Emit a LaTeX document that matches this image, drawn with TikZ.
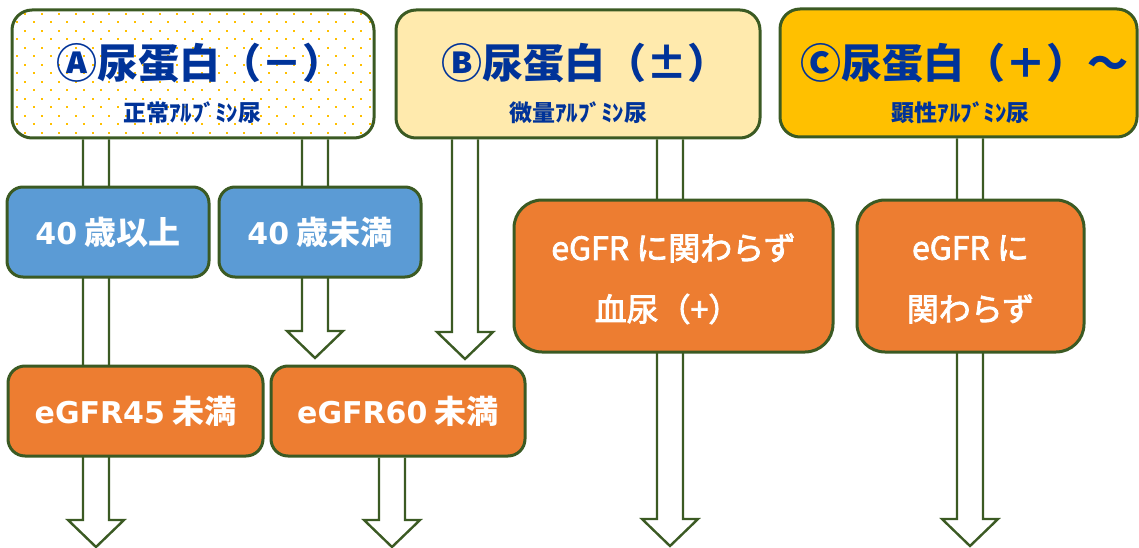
\documentclass[tikz,border=0pt]{standalone}
\usepackage{fontspec}
\newfontfamily\jp{Noto Sans CJK JP}
\newfontfamily\jpm{Noto Sans CJK JP}[BoldFont={Noto Sans CJK JP}, BoldFeatures={FakeBold=2.5}]
\newfontfamily\lat{DejaVu Sans}
\usetikzlibrary{calc}
\pgfdeclarelayer{background}
\pgfsetlayers{background,main}
\definecolor{edgegreen}{HTML}{3B5A23}
\definecolor{ttlblue}{HTML}{003399}
\definecolor{goldc}{HTML}{FFC000}
\definecolor{palec}{HTML}{FFEAAD}
\definecolor{bluebox}{HTML}{5B9BD5}
\definecolor{orangebox}{HTML}{ED7D31}
\newcommand\latb[1]{{\lat\fontsize{30pt}{30pt}\selectfont #1}}
\newcommand\blockarrow[2]{%
  \draw[arrowstyle] ($(#1)+(-13,0)$) -- ($(#2)+(-13,-27)$) -- ($(#2)+(-28,-27)$) -- (#2)
    -- ($(#2)+(28,-27)$) -- ($(#2)+(13,-27)$) -- ($(#1)+(13,0)$);}
\tikzset{
  box/.style={draw=edgegreen, line width=3pt, inner sep=0pt, rounded corners=#1},
  box/.default=18pt,
  arrowstyle/.style={draw=edgegreen, fill=white, line width=2.4pt, line join=miter},
  ttl/.style={font=\jp\bfseries\fontsize{41pt}{41pt}\selectfont, text=ttlblue, inner sep=0pt},
  sub/.style={font=\jp\bfseries\fontsize{23pt}{23pt}\selectfont, text=ttlblue, inner sep=0pt},
  small/.style={font=\jp\bfseries\fontsize{32pt}{32pt}\selectfont, text=white},
  otext/.style={font=\jpm\bfseries\fontsize{32pt}{32pt}\selectfont, text=white, inner sep=0pt},
}
\begin{document}
\begin{tikzpicture}[x=1pt,y=-1pt]
\useasboundingbox (0,0) rectangle (1139,548);
% dotted fill of box A
\fill[white, rounded corners=20pt] (12,10) rectangle (374,138);
\begin{scope}
  \clip[rounded corners=20pt] (12,10) rectangle (374,138);
  \foreach \i in {0,...,15}{
    \foreach \j in {0,...,23}{
      \pgfmathsetmacro\dotx{0.2+16.8*\j+8.4*mod(\i,2)}
      \pgfmathsetmacro\doty{5.5+8.5*\i}
      \fill[goldc] (\dotx-1,\doty-1) rectangle (\dotx+1,\doty+1);
    }
  }
\end{scope}
% top boxes
\node[box=20pt, minimum width=362pt, minimum height=128pt] (A) at (193,74) {};
\node[box=20pt, fill=palec, minimum width=364pt, minimum height=128pt] (B) at (578,74) {};
\node[box=20pt, fill=goldc, minimum width=357pt, minimum height=128pt] (C) at (958.5,73) {};
\node[ttl] (At) at ($(A.center)+(7,-11)$) {Ⓐ尿蛋白（－）};
\node[sub] (As) at ($(A.center)+(-1,39)$) {正常ｱﾙﾌﾞﾐﾝ尿};
\node[ttl] (Bt) at ($(B.center)+(7,-11)$) {Ⓑ尿蛋白（±）};
\node[sub] (Bs) at ($(B.center)+(0,39)$) {微量ｱﾙﾌﾞﾐﾝ尿};
\node[ttl] (Ct) at ($(C.center)+(6,-10)$) {Ⓒ尿蛋白（＋）～};
\node[sub] (Cs) at ($(C.center)+(2,40)$) {顕性ｱﾙﾌﾞﾐﾝ尿};
% age boxes
\node[box=16pt, fill=bluebox, minimum width=202pt, minimum height=90pt, small] (Y1) at (108,232) {\latb{40} 歳以上};
\node[box=16pt, fill=bluebox, minimum width=202pt, minimum height=90pt, small] (Y2) at (320,232) {\latb{40} 歳未満};
% eGFR boxes
\node[box=17pt, fill=orangebox, minimum width=255pt, minimum height=90pt, small] (E45) at (135.5,411) {\latb{eGFR45} 未満};
\node[box=17pt, fill=orangebox, minimum width=254pt, minimum height=90pt, small] (E60) at (398,411) {\latb{eGFR60} 未満};
\node[box=28pt, fill=orangebox, minimum width=319pt, minimum height=152pt] (OB) at (673.5,276) {};
\node[box=28pt, fill=orangebox, minimum width=227pt, minimum height=152pt] (OC) at (970.5,276) {};
\node[otext] (OB1) at ($(OB.center)+(0,-28)$) {eGFR に関わらず};
\node[otext] (OB2) at ($(OB.center)+(-6,33)$) {血尿（+）};
\node[otext] (OC1) at ($(OC.center)+(0,-28)$) {eGFR に};
\node[otext] (OC2) at ($(OC.center)+(0,33)$) {関わらず};
% block arrows (behind boxes)
\coordinate (tA1) at (96,547);
\coordinate (tA2) at (315,358);
\coordinate (tB1) at (465,359);
\coordinate (tB2) at (670,546);
\coordinate (tC) at (970,546);
\coordinate (t60) at (392,547);
\coordinate (sA1) at (A.south -| tA1);
\coordinate (sA2) at (A.south -| tA2);
\coordinate (sB1) at (B.south -| tB1);
\coordinate (sB2) at (B.south -| tB2);
\coordinate (sC) at (C.south -| tC);
\coordinate (s60) at (E60.south -| t60);
\begin{pgfonlayer}{background}
  \blockarrow{sA1}{tA1}
  \blockarrow{sA2}{tA2}
  \blockarrow{sB1}{tB1}
  \blockarrow{sB2}{tB2}
  \blockarrow{sC}{tC}
  \blockarrow{s60}{t60}
\end{pgfonlayer}
\end{tikzpicture}
\end{document}
